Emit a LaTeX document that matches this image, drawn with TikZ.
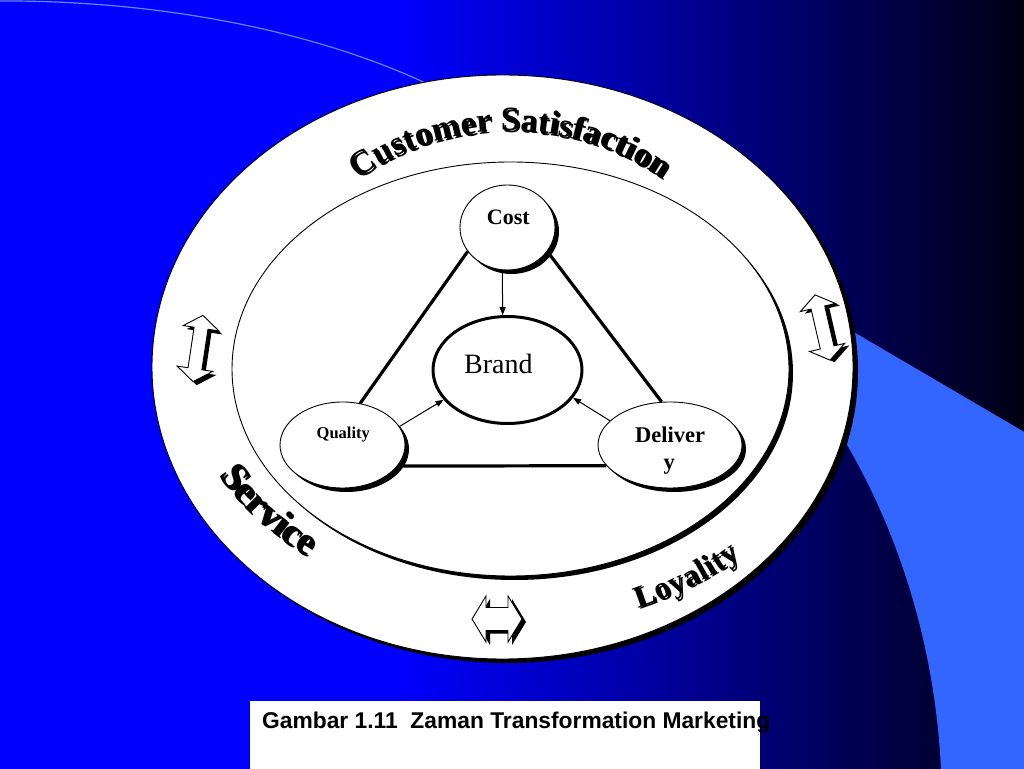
\documentclass[tikz,border=0pt]{standalone}
\usepackage{fontspec}
\setmainfont{Liberation Serif}
\newfontfamily\capfont{Liberation Sans}
\usetikzlibrary{shapes.geometric,shadows,decorations.text,arrows.meta}
\definecolor{bgblue}{RGB}{0,0,255}
\definecolor{bgdark}{RGB}{0,0,18}
\definecolor{lightblue}{RGB}{51,102,255}
\definecolor{curveblue}{RGB}{95,135,255}
\begin{document}
\begin{tikzpicture}[x=1pt,y=1pt,
  thinell/.style={ellipse, draw=black, line width=0.9pt, fill=white, inner sep=0pt},
  shad/.style={drop shadow={shadow xshift=4pt, shadow yshift=-4pt, fill=black, opacity=1}},
  conn/.style={line width=3.2pt},
  thinarrow/.style={line width=1pt, -{Triangle[length=8pt,width=6pt]}},
  lbl/.style={inner sep=0pt, anchor=base},
  pics/dblarrow/.style n args={6}{code={
    \fill[black, shift={(#5,#6)}] (0,{#1/2}) -- ({#2/2},{#1/2-#3}) -- ({#4/2},{#1/2-#3}) -- ({#4/2},{-#1/2+#3}) -- ({#2/2},{-#1/2+#3}) -- (0,{-#1/2}) -- ({-#2/2},{-#1/2+#3}) -- ({-#4/2},{-#1/2+#3}) -- ({-#4/2},{#1/2-#3}) -- ({-#2/2},{#1/2-#3}) -- cycle;
    \draw[fill=white, line width=0.9pt] (0,{#1/2}) -- ({#2/2},{#1/2-#3}) -- ({#4/2},{#1/2-#3}) -- ({#4/2},{-#1/2+#3}) -- ({#2/2},{-#1/2+#3}) -- (0,{-#1/2}) -- ({-#2/2},{-#1/2+#3}) -- ({-#4/2},{-#1/2+#3}) -- ({-#4/2},{#1/2-#3}) -- ({-#2/2},{#1/2-#3}) -- cycle;
  }}
]
\useasboundingbox (0,0) rectangle (1024,768);
% background
\fill[bgblue] (-2,-2) rectangle (401,770);
\shade[left color=bgblue, right color=bgdark] (400,-2) rectangle (1026,770);
% light blue shape on the right
\fill[lightblue] (820,455.7) -- (1026,335) -- (1026,-2) -- (941,-2) .. controls (935,128) and (895,248) .. (835,343) -- cycle;
% thin curve top left
\draw[curveblue, line width=1.2pt] (-2,767) .. controls (170,768) and (330,733) .. (440,678);
% outer and inner ellipses
\draw[line width=0.9pt, fill=white, drop shadow={shadow xshift=5pt, shadow yshift=-4pt, fill=black, opacity=1}] (502.5,401) ellipse [x radius=350.5, y radius=292];
\draw[line width=0.9pt, fill=white, drop shadow={shadow xshift=4pt, shadow yshift=-4pt, fill=black, opacity=1}] (510.5,399) ellipse [x radius=278.5, y radius=207];
% nodes
\node[thinell, shad, minimum width=95pt, minimum height=85pt] (cost) at (507.5,540.5) {};
\node[ellipse, draw, line width=3pt, fill=white, inner sep=0pt, minimum width=149pt, minimum height=107pt] (brand) at (507.5,398) {};
\node[thinell, shad, minimum width=125pt, minimum height=86pt] (quality) at (342.5,323) {};
\node[thinell, shad, minimum width=144pt, minimum height=86pt] (delivery) at (670,323) {};
% texts in nodes
\node[lbl, font=\bfseries\fontsize{22}{22}\selectfont] (costtxt) at (508.3,543) {Cost};
\node[lbl, font=\fontsize{28}{28}\selectfont] (brandtxt) at (498.3,394.7) {Brand};
\node[lbl, font=\bfseries\fontsize{16.5}{16.5}\selectfont] (qualtxt) at (343.3,329.7) {Quality};
\node[lbl, font=\bfseries\fontsize{22.5}{22.5}\selectfont] (deltxta) at (670,325.3) {Deliver};
\node[lbl, font=\bfseries\fontsize{22.5}{22.5}\selectfont] (deltxtb) at (669.3,298) {y};
% connectors
\draw[conn] (quality.67) -- (cost.211);
\draw[conn] (cost.-31) -- (delivery.101);
\draw[conn] (quality.-21) -- (delivery.198.5);
\draw[thinarrow] (cost.263.5) -- (brand.95);
\draw[thinarrow] (quality.18) -- (brand.205);
\draw[thinarrow] (delivery.158) -- (brand.-23);
% double arrows
\pic[rotate=-8.5] (arrowleft) at (198,419.5) {dblarrow={67}{36}{13}{14}{4}{-3}};
\pic[rotate=13] (arrowright) at (822.5,440.5) {dblarrow={67}{36}{13}{14}{4}{-3}};
\pic[rotate=90] (arrowbottom) at (497,149) {dblarrow={50}{46}{14}{23}{-3}{-4}};
% curved texts (with a shadow copy, as in the word art)
\foreach \sx/\sy in {1.8/-1.8, 0/0}{
\path[shift={(\sx,\sy)}, decorate, decoration={text along path, text align=fit to path,
  text={|\bfseries\fontsize{34}{34}\selectfont|Customer Satisfaction}}]
  (510,372) ++(125:265) arc[start angle=125, end angle=55, radius=265];
\path[shift={(\sx,\sy)}, decorate, decoration={text along path, text align=fit to path,
  text={|\bfseries\fontsize{39}{39}\selectfont|Service}}]
  (505,399) ++(206.5:320 and 238) arc[start angle=206.5, end angle=232, x radius=320, y radius=238];
\path[shift={(\sx,\sy)}, decorate, decoration={text along path, text align=fit to path,
  text={|\bfseries\fontsize{31}{31}\selectfont|Loyality}}]
  (505,399) ++(-66.8:340 and 260) arc[start angle=-66.8, end angle=-46.2, x radius=340, y radius=260];
}
% caption
\fill[white] (250,-2) rectangle (760,67);
\node[anchor=base west, inner sep=0pt, font=\capfont\bfseries\fontsize{22.8}{22.8}\selectfont] (caption) at (262,40) {Gambar 1.11\ \ Zaman Transformation Marketing};
\end{tikzpicture}
\end{document}
